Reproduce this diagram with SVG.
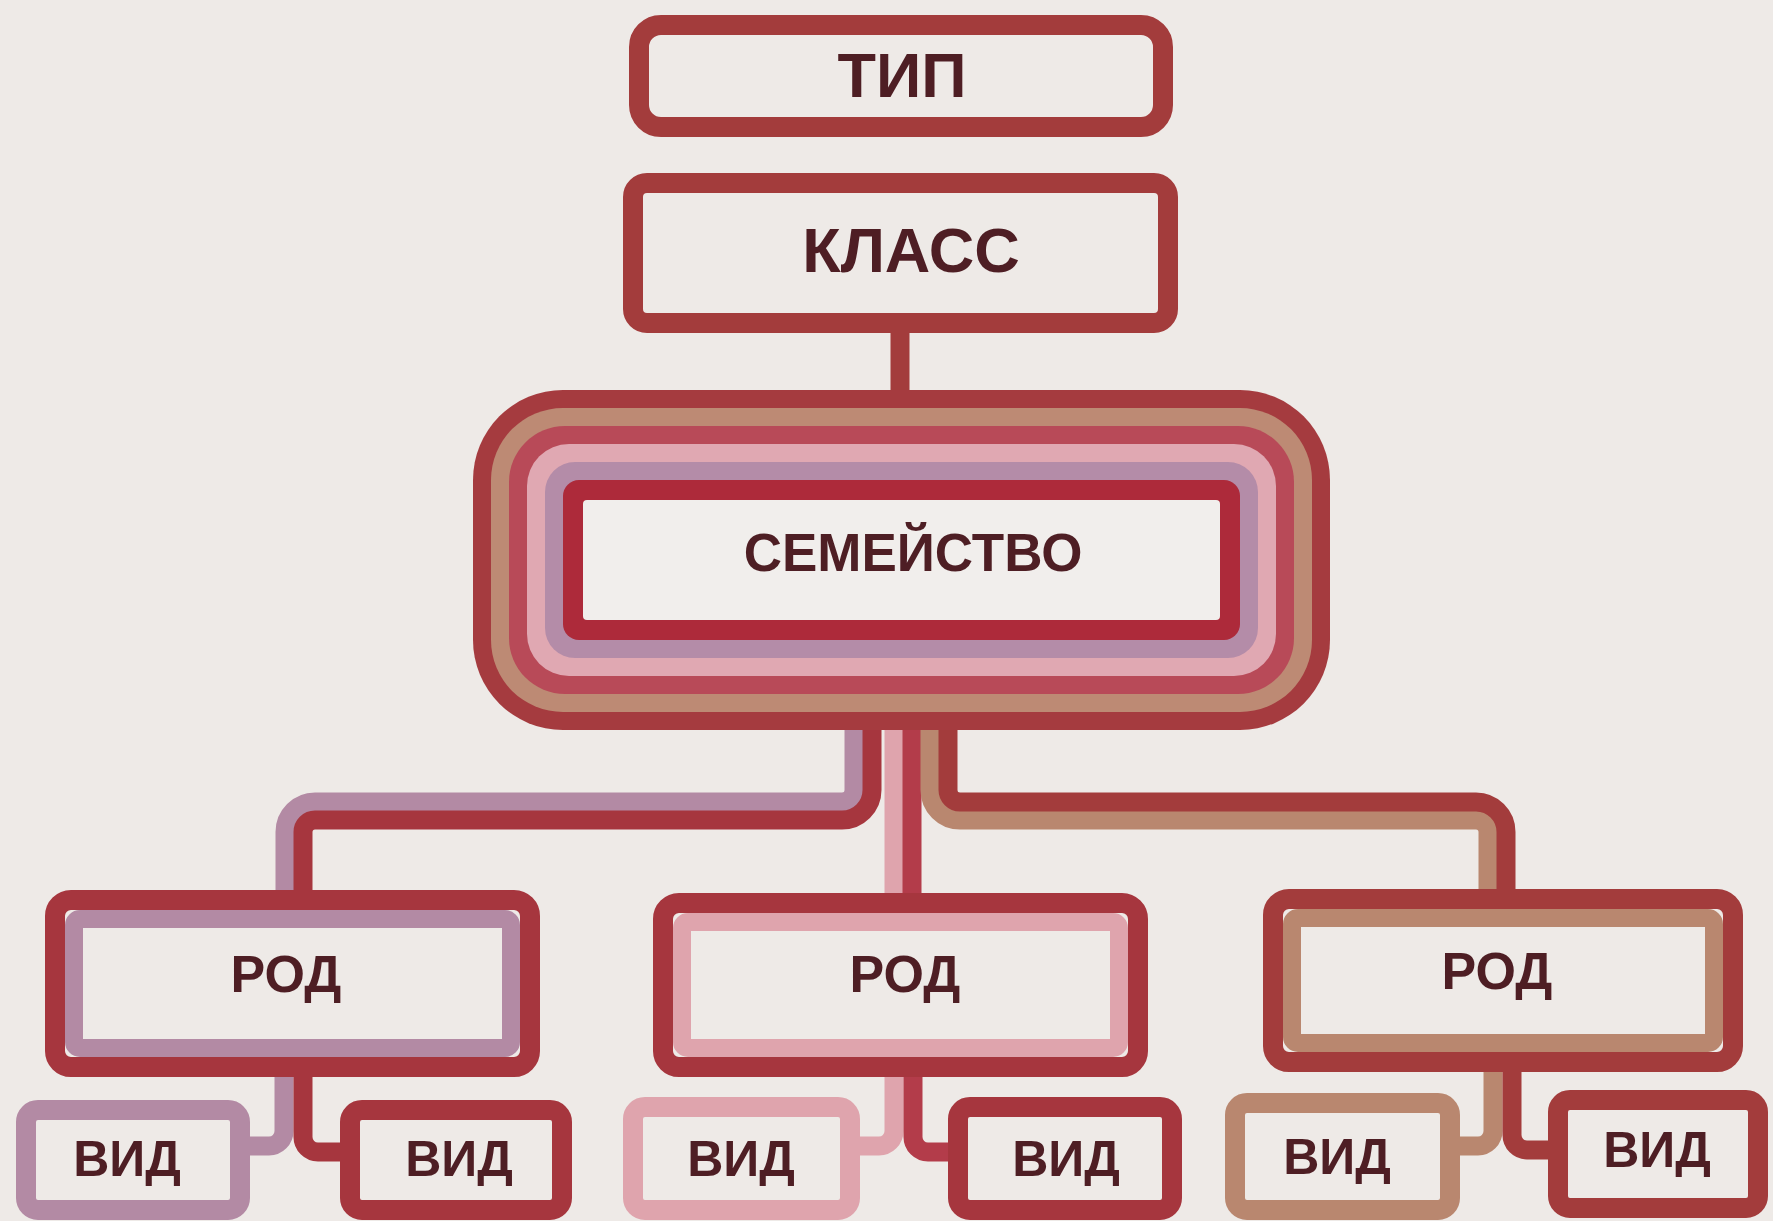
<svg xmlns="http://www.w3.org/2000/svg" width="1773" height="1221" viewBox="0 0 1773 1221">
<defs>
<style>
.bg{fill:#eeeae7}
.box{fill:#f1eeec}
.b{fill:none;stroke-width:20}
.band{fill:none;stroke-width:18}
.c{fill:none;stroke-width:19;stroke-linecap:butt}
.dr{stroke:#a6363e}
.dk{stroke:#a33c3c}
.mv{stroke:#b38aa4}
.pk{stroke:#dfa4ad}
.tn{stroke:#b9876f}
.rd{stroke:#b33c4a}
.t{font-family:"Liberation Sans",Arial,sans-serif;font-weight:bold;fill:#4e1e24;text-anchor:middle}
</style>
</defs>
<rect class="bg" x="0" y="0" width="1773" height="1221"/>

<g id="connectors">
  <path class="c dk" d="M900,330 V394"/>
  <!-- left cable -->
  <path class="c mv" d="M854,726 V790 A12,12 0 0 1 842,802 H315 A30,30 0 0 0 285,832 V896"/>
  <path class="c dr" d="M872,726 V790 A30,30 0 0 1 842,820 H315 A12,12 0 0 0 303,832 V896"/>
  <!-- middle cable -->
  <path class="c pk" d="M894,726 V898"/>
  <path class="c rd" d="M912,726 V898"/>
  <!-- right cable -->
  <path class="c tn" d="M930,726 V790 A30,30 0 0 0 960,820 H1476 A12,12 0 0 1 1488,832 V894"/>
  <path class="c dk" d="M948,726 V790 A12,12 0 0 0 960,802 H1476 A30,30 0 0 1 1506,832 V894"/>
  <!-- left group split -->
  <path class="c mv" d="M284,1070 V1131 A15,15 0 0 1 269,1146 H244"/>
  <path class="c dr" d="M303,1070 V1137 A15,15 0 0 0 318,1152 H346"/>
  <!-- middle group split -->
  <path class="c pk" d="M894,1070 V1131 A15,15 0 0 1 879,1146 H854"/>
  <path class="c rd" d="M913,1070 V1137 A15,15 0 0 0 928,1152 H954"/>
  <!-- right group split -->
  <path class="c tn" d="M1493,1066 V1131 A15,15 0 0 1 1478,1146 H1454"/>
  <path class="c dk" d="M1512,1066 V1135 A15,15 0 0 0 1527,1150 H1554"/>
</g>

<g id="tip">
  <rect class="box b dk" x="639" y="25" width="524" height="102" rx="22"/>
  <text class="t" x="902" y="97" font-size="63">ТИП</text>
</g>

<g id="klass">
  <rect class="box b dk" x="633" y="183" width="535" height="140" rx="14"/>
  <text class="t" x="911" y="272" font-size="63">КЛАСС</text>
</g>

<g id="semeistvo">
  <rect x="473" y="390" width="857" height="340" rx="90" fill="#a53b3f"/>
  <rect x="491" y="408" width="821" height="304" rx="72" fill="#bd8a74"/>
  <rect x="509" y="426" width="785" height="268" rx="56" fill="#b84a58"/>
  <rect x="527" y="444" width="749" height="232" rx="42" fill="#e0a8b2"/>
  <rect x="545" y="462" width="713" height="196" rx="30" fill="#b48ca8"/>
  <rect x="563" y="480" width="677" height="160" rx="16" fill="#ad2a3a"/>
  <rect class="box" x="583" y="500" width="637" height="120" rx="4"/>
  <text class="t" x="913" y="571" font-size="53">СЕМЕЙСТВО</text>
</g>

<g id="rod-1">
  <rect class="box b dr" x="55" y="900" width="475" height="167" rx="16"/>
  <rect class="band mv" x="74" y="919" width="437" height="129" rx="6"/>
  <text class="t" x="286" y="992" font-size="52">РОД</text>
</g>
<g id="rod-2">
  <rect class="box b dr" x="663" y="903" width="475" height="164" rx="16"/>
  <rect class="band pk" x="682" y="922" width="437" height="126" rx="6"/>
  <text class="t" x="905" y="992" font-size="52">РОД</text>
</g>
<g id="rod-3">
  <rect class="box b dk" x="1273" y="899" width="460" height="163" rx="16"/>
  <rect class="band tn" x="1292" y="918" width="422" height="125" rx="6"/>
  <text class="t" x="1497" y="989" font-size="52">РОД</text>
</g>

<g id="vid-1">
  <rect class="box b mv" x="26" y="1110" width="214" height="100" rx="12"/>
  <text class="t" x="127" y="1176" font-size="50">ВИД</text>
</g>
<g id="vid-2">
  <rect class="box b dr" x="350" y="1110" width="212" height="100" rx="12"/>
  <text class="t" x="459" y="1176" font-size="50">ВИД</text>
</g>
<g id="vid-3">
  <rect class="box b pk" x="633" y="1107" width="217" height="103" rx="12"/>
  <text class="t" x="741" y="1176" font-size="50">ВИД</text>
</g>
<g id="vid-4">
  <rect class="box b dr" x="958" y="1107" width="214" height="103" rx="12"/>
  <text class="t" x="1066" y="1176" font-size="50">ВИД</text>
</g>
<g id="vid-5">
  <rect class="box b tn" x="1235" y="1103" width="215" height="107" rx="12"/>
  <text class="t" x="1337" y="1174" font-size="50">ВИД</text>
</g>
<g id="vid-6">
  <rect class="box b dk" x="1558" y="1100" width="200" height="108" rx="12"/>
  <text class="t" x="1657" y="1167" font-size="50">ВИД</text>
</g>
</svg>
